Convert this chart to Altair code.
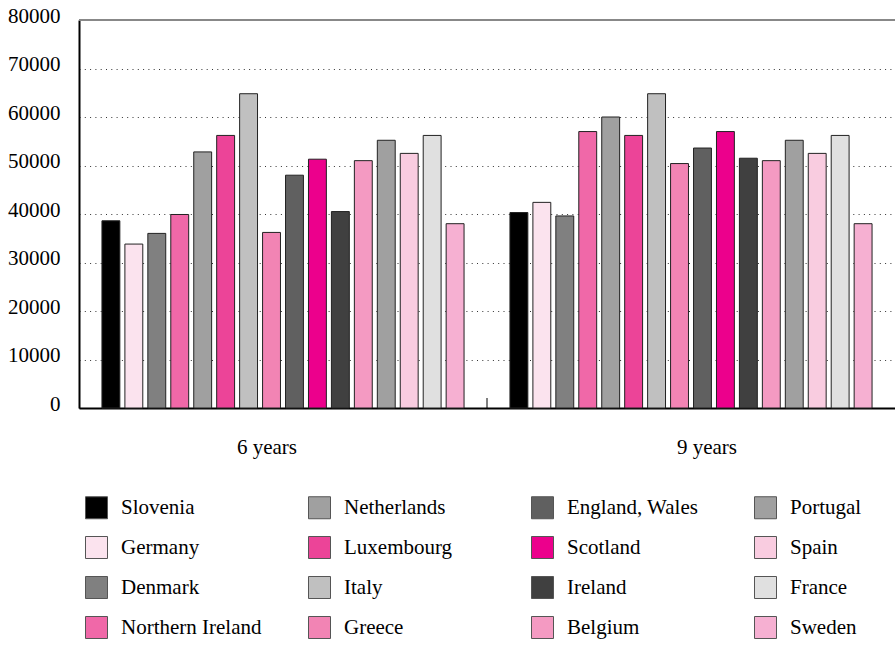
import altair as alt
import pandas as pd

# Age groups along the x axis
groups = ["6 years", "9 years"]

# Countries in bar order within each group
countries = [
    "Slovenia", "Germany", "Denmark", "Northern Ireland",
    "Netherlands", "Luxembourg", "Italy", "Greece",
    "England, Wales", "Scotland", "Ireland", "Belgium",
    "Portugal", "Spain", "France", "Sweden",
]

values_6 = [38600, 33800, 36000, 39900, 52800, 56200, 64800, 36200,
            48000, 51300, 40500, 51000, 55200, 52500, 56200, 38000]
values_9 = [40300, 42400, 39600, 57000, 60000, 56200, 64800, 50400,
            53600, 57000, 51500, 51000, 55200, 52500, 56200, 38000]

colors = [
    "#000000", "#fbe3ee", "#808080", "#f068a8",
    "#a0a0a0", "#ec4498", "#c0c0c0", "#f284b4",
    "#606060", "#ec008c", "#404040", "#f49ac2",
    "#a0a0a0", "#f9cce0", "#e0e0e0", "#f6b0d2",
]

y_ticks = [0, 10000, 20000, 30000, 40000, 50000, 60000, 70000, 80000]

rows = []
for g, vals in zip(groups, [values_6, values_9]):
    for c, v in zip(countries, vals):
        rows.append({"group": g, "country": c, "value": v})
df = pd.DataFrame(rows)

W, H = 816, 388
FONT = "Liberation Serif"
FS = 21

x_enc = alt.X(
    "group:N",
    sort=groups,
    scale=alt.Scale(paddingInner=0, paddingOuter=0),
    axis=alt.Axis(
        title=None, labelAngle=0, ticks=False, domainColor="#000000",
        domainWidth=2, labelFont=FONT, labelFontSize=FS, labelColor="#000000",
        labelPadding=28,
        labelOffset={"expr": "datum.value == '6 years' ? -16 : 16"},
    ),
)

bars = alt.Chart(df).mark_bar(stroke="#222222", strokeWidth=1).encode(
    x=x_enc,
    xOffset=alt.XOffset(
        "country:N", sort=countries,
        scale=alt.Scale(paddingInner=0.22, paddingOuter=1),
    ),
    y=alt.Y(
        "value:Q",
        scale=alt.Scale(domain=[0, 80000], nice=False),
        axis=alt.Axis(
            title=None, values=y_ticks, format="d", ticks=False,
            domainColor="#000000", domainWidth=2,
            grid=True, gridColor="#333333", gridDash=[1, 4.3], gridWidth=1,
            labelFont=FONT, labelFontSize=FS, labelColor="#000000",
            labelPadding=19, labelBaseline="alphabetic", labelOffset=2,
        ),
    ),
    color=alt.Color(
        "country:N",
        scale=alt.Scale(domain=countries, range=colors),
        legend=alt.Legend(
            title=None, orient="none", legendX=6, legendY=476,
            columns=4, gridAlign="all", columnPadding=44, rowPadding=13,
            symbolType="square", symbolSize=484, symbolStrokeColor="#555555",
            symbolStrokeWidth=1, symbolOpacity=1,
            labelFont=FONT, labelFontSize=FS, labelColor="#000000",
            labelOffset=13, labelLimit=300, padding=0,
        ),
    ),
)

# Grey frame line along the top of the plot area
top_line = alt.Chart(pd.DataFrame({"k": [0]})).mark_rule(
    color="#888888", strokeWidth=2
).encode(x=alt.value(0), x2=alt.value(W), y=alt.value(0))

# Small divider tick between the two age groups
divider = alt.Chart(pd.DataFrame({"group": [groups[1]]})).mark_rule(
    color="#000000", strokeWidth=1
).encode(
    x=alt.X("group:N", sort=groups, bandPosition=0),
    y=alt.value(H - 10), y2=alt.value(H),
)

chart = (
    alt.layer(bars, top_line, divider)
    .properties(
        width=W, height=H,
        autosize=alt.AutoSizeParams(type="none"),
        padding={"left": 79, "top": 20, "right": 0, "bottom": 237},
        background="#ffffff",
    )
    .configure_view(strokeWidth=0)
)

chart.save("out.html", embed_options={"renderer": "svg", "actions": False})
